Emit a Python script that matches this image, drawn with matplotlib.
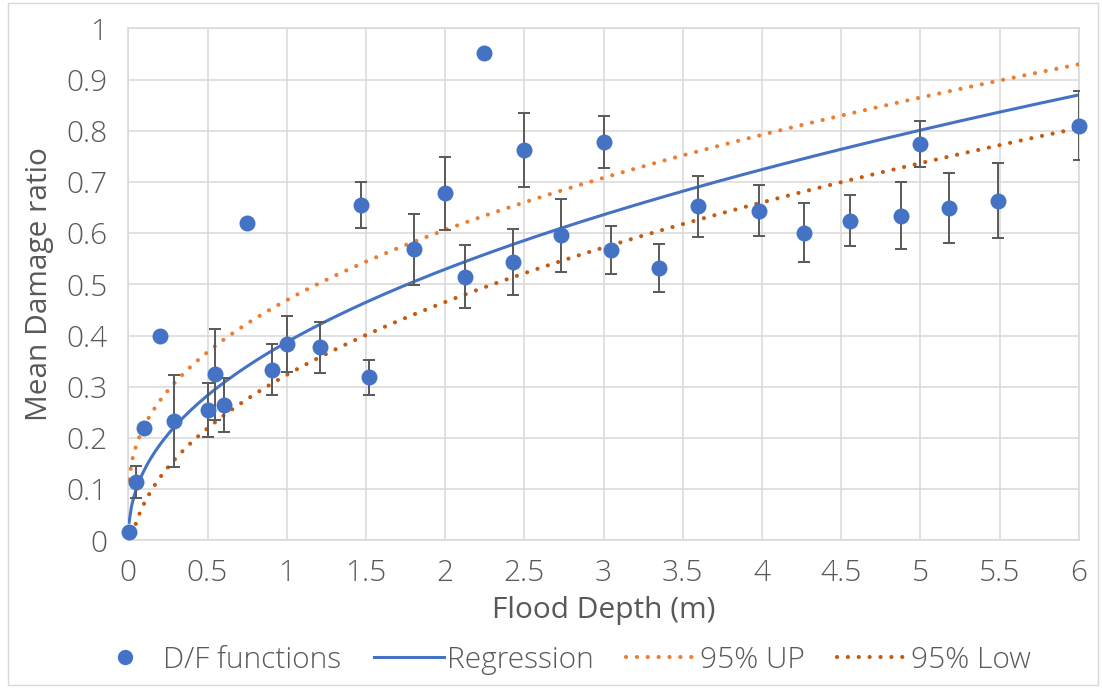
import matplotlib
matplotlib.use("Agg")
import matplotlib.pyplot as plt
import numpy as np
from matplotlib.lines import Line2D
from matplotlib.patches import Rectangle

plt.rcParams['font.family'] = ['Open Sans', 'DejaVu Sans']
plt.rcParams['font.weight'] = 'light'

# Flood depth (m) and mean damage ratio of each depth-damage function
depth = [0.005, 0.047, 0.097, 0.198, 0.289, 0.500, 0.547, 0.604, 0.747, 0.907,
         1.000, 1.212, 1.467, 1.522, 1.804, 2.000, 2.126, 2.248, 2.427, 2.500,
         2.732, 3.000, 3.050, 3.352, 3.595, 3.980, 4.268, 4.556, 4.878, 5.000,
         5.183, 5.489, 6.000]
damage = [0.016, 0.114, 0.219, 0.400, 0.233, 0.254, 0.324, 0.264, 0.620, 0.333,
          0.383, 0.377, 0.654, 0.318, 0.568, 0.678, 0.515, 0.951, 0.544, 0.762,
          0.596, 0.778, 0.567, 0.532, 0.652, 0.644, 0.601, 0.624, 0.634, 0.774,
          0.649, 0.663, 0.810]
# half-width of the error bar (nan where no bar is shown)
err = [np.nan, 0.031, np.nan, np.nan, 0.089, 0.053, 0.089, 0.053, np.nan, 0.050,
       0.055, 0.050, 0.045, 0.034, 0.070, 0.071, 0.061, np.nan, 0.064, 0.072,
       0.071, 0.051, 0.047, 0.047, 0.060, 0.049, 0.057, 0.050, 0.065, 0.045,
       0.069, 0.073, 0.067]

# power-law fits  y = a * x**b + c
reg_coef = (0.387, 0.452, 0.0)
up_coef = (0.389, 0.436, 0.080)
low_coef = (0.389, 0.450, -0.066)

x_ticks = [0, 0.5, 1, 1.5, 2, 2.5, 3, 3.5, 4, 4.5, 5, 5.5, 6]
y_ticks = [0, 0.1, 0.2, 0.3, 0.4, 0.5, 0.6, 0.7, 0.8, 0.9, 1]

BLUE = '#4472C4'
ORANGE = '#ED7D31'
DARK_ORANGE = '#C55A11'
GRID = '#D9D9D9'
TEXT = '#595959'
FS = 21.5

W, H = 1102, 688
fig = plt.figure(figsize=(W / 100, H / 100), dpi=100)
ax = fig.add_axes([128.3 / W, 1 - 540.3 / H, (1078.7 - 128.3) / W, (540.3 - 28.3) / H])

# chart border
fig.patches.append(Rectangle((8 / W, 3 / H), (1098 - 8) / W, (685 - 3) / H,
                             transform=fig.transFigure, fill=False,
                             edgecolor=GRID, linewidth=1.0))

ax.set_xlim(0, 6)
ax.set_ylim(0, 1)
ax.set_xticks(x_ticks)
ax.set_xticklabels([f'{t:g}' for t in x_ticks])
ax.set_yticks(y_ticks)
ax.set_yticklabels([f'{t:g}' for t in y_ticks])
ax.grid(True, color=GRID, linewidth=1.1)
ax.set_axisbelow(True)
for s in ax.spines.values():
    s.set_color(GRID)
    s.set_linewidth(1.1)
ax.tick_params(length=0, labelsize=FS, colors=TEXT, pad=15)
ax.tick_params(axis='x', pad=13)

xs = np.linspace(depth[0], depth[-1], 400)


def power(coef, x):
    a, b, c = coef
    return a * x ** b + c


dot = (0, (0.01, 2.6))
ax.plot(xs, power(reg_coef, xs), color=BLUE, lw=2.2, zorder=3)
ax.plot(xs, power(up_coef, xs), color=ORANGE, lw=3.0, ls=dot,
        dash_capstyle='round', zorder=3)
ax.plot(xs, power(low_coef, xs), color=DARK_ORANGE, lw=3.0, ls=dot,
        dash_capstyle='round', zorder=3)

d = np.array(depth)
m = np.array(damage)
e = np.array(err)
has = ~np.isnan(e)
ax.errorbar(d[has], m[has], yerr=e[has], fmt='none', ecolor=TEXT,
            elinewidth=1.4, capsize=4.5, capthick=1.4, zorder=4)
ax.plot(d, m, 'o', color=BLUE, markersize=11.5, markeredgewidth=0,
        zorder=5, clip_on=False)

ax.set_xlabel('Flood Depth (m)', fontsize=FS, color=TEXT, labelpad=6)
ax.set_ylabel('Mean Damage ratio', fontsize=FS, color=TEXT, labelpad=9)

handles = [
    Line2D([], [], ls='none', marker='o', color=BLUE, markersize=11, markeredgewidth=0),
    Line2D([], [], color=BLUE, lw=2.2),
    Line2D([], [], color=ORANGE, lw=3.0, ls=dot, dash_capstyle='round'),
    Line2D([], [], color=DARK_ORANGE, lw=3.0, ls=dot, dash_capstyle='round'),
]
labels = ['D/F functions', 'Regression', '95% UP', '95% Low']
fig.legend(handles, labels, loc='center', ncol=4, frameon=False,
           bbox_to_anchor=(560 / W, 1 - 660 / H), fontsize=FS,
           labelcolor=TEXT, handlelength=2.35, handletextpad=0.1,
           columnspacing=1.1)

fig.savefig('out.png', dpi=100)
